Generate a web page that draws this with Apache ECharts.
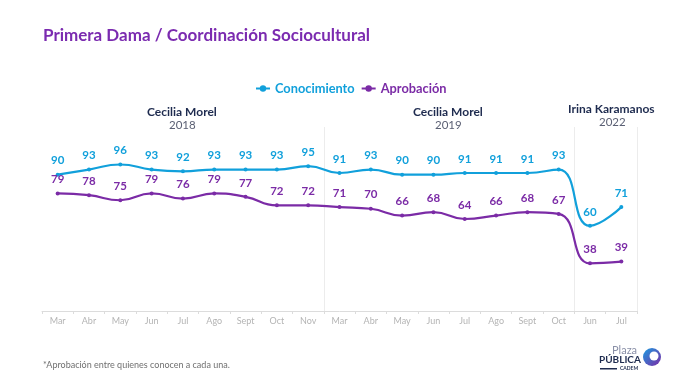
<!DOCTYPE html>
<html>
<head>
<meta charset="utf-8">
<script src="https://cdn.jsdelivr.net/npm/echarts@6/dist/echarts.min.js"></script>
<style>html,body{margin:0;padding:0;background:#fff}#c{width:680px;height:383px}</style>
</head>
<body>
<div id="c"></div>
<script>
const categories = ['Mar','Abr','May','Jun','Jul','Ago','Sept','Oct','Nov','Mar','Abr','May','Jun','Jul','Ago','Sept','Oct','Jun','Jul'];
const conocimiento = [90,93,96,93,92,93,93,93,95,91,93,90,90,91,91,91,93,60,71];
const aprobacion = [79,78,75,79,76,79,77,72,72,71,70,66,68,64,66,68,67,38,39];
const periodBreaks = [9, 17];
const BLUE = '#11A0DB', PURPLE = '#7B2BA6', NAVY = '#1E2B4F';
const FONT = 'Lato';

const chart = echarts.init(document.getElementById('c'), null, {renderer: 'canvas'});
chart.setOption({
  animation: false,
  textStyle: {fontFamily: FONT},
  title: {
    text: 'Primera Dama / Coordinación Sociocultural',
    left: 38, top: 22,
    textStyle: {fontFamily: FONT, fontSize: 17, fontWeight: 'bold', color: '#7B2BB0'}
  },
  legend: {
    top: 77, left: 250,
    itemWidth: 14, itemHeight: 8, itemGap: 6,
    textStyle: {fontFamily: FONT, fontSize: 12.8, fontWeight: 'bold'},
    data: [
      {name: 'Conocimiento', textStyle: {color: BLUE}},
      {name: 'Aprobación', textStyle: {color: PURPLE}}
    ]
  },
  grid: {left: 42, right: 43, top: 127, bottom: 72},
  xAxis: {
    type: 'category',
    data: categories,
    boundaryGap: true,
    axisLine: {lineStyle: {color: '#dcdcdc'}},
    axisTick: {show: true, length: 3, lineStyle: {color: '#dcdcdc'}},
    axisLabel: {color: '#b4b4b4', fontSize: 9, margin: 6, fontFamily: FONT},
    splitLine: {
      show: true,
      interval: (i) => periodBreaks.indexOf(i) >= 0,
      lineStyle: {color: '#ececec', width: 1}
    }
  },
  yAxis: {
    type: 'value', min: 10, max: 118,
    show: false,
    splitLine: {show: false}
  },
  graphic: [
    {type: 'text', left: 147, top: 106, style: {text: 'Cecilia Morel', fill: NAVY, font: 'bold 12px ' + FONT}},
    {type: 'text', left: 169, top: 119, style: {text: '2018', fill: '#5a5f73', font: '11.5px ' + FONT}},
    {type: 'text', left: 413, top: 106, style: {text: 'Cecilia Morel', fill: NAVY, font: 'bold 12px ' + FONT}},
    {type: 'text', left: 435, top: 119, style: {text: '2019', fill: '#5a5f73', font: '11.5px ' + FONT}},
    {type: 'text', left: 568, top: 103, style: {text: 'Irina Karamanos', fill: NAVY, font: 'bold 12px ' + FONT}},
    {type: 'text', left: 599, top: 116, style: {text: '2022', fill: '#5a5f73', font: '11.5px ' + FONT}},
    {type: 'text', left: 43, top: 361, style: {text: '*Aprobación entre quienes conocen a cada una.', fill: '#707070', font: '9px ' + FONT}},
    {type: 'text', left: 612, top: 345, style: {text: 'Plaza', fill: '#8a90a8', font: '11px ' + FONT}},
    {type: 'text', left: 599, top: 355, style: {text: 'PÚBLICA', fill: NAVY, font: 'bold 10px ' + FONT}},
    {type: 'text', left: 620, top: 366, style: {text: 'CADEM', fill: NAVY, font: 'bold 5px ' + FONT}},
    {type: 'rect', shape: {x: 600, y: 368, width: 17, height: 1.5}, style: {fill: NAVY}},
    {type: 'circle', shape: {cx: 652, cy: 357, r: 9}, style: {fill: new echarts.graphic.LinearGradient(0, 0, 1, 1, [{offset: 0, color: '#1a9be0'}, {offset: 1, color: '#7b2ba6'}])}},
    {type: 'circle', shape: {cx: 654, cy: 356, r: 4.5}, style: {fill: '#fff'}}
  ],
  series: [
    {
      name: 'Conocimiento', type: 'line', data: conocimiento,
      smooth: true, symbol: 'circle', symbolSize: 4,
      itemStyle: {color: BLUE}, lineStyle: {width: 2.2, color: BLUE},
      label: {show: true, position: 'top', distance: 6, color: BLUE, fontWeight: 'bold', fontSize: 11.5, fontFamily: FONT}
    },
    {
      name: 'Aprobación', type: 'line', data: aprobacion,
      smooth: true, symbol: 'circle', symbolSize: 4,
      itemStyle: {color: PURPLE}, lineStyle: {width: 2.2, color: PURPLE},
      label: {show: true, position: 'top', distance: 6, color: PURPLE, fontWeight: 'bold', fontSize: 11.5, fontFamily: FONT}
    }
  ]
});
</script>
</body>
</html>
